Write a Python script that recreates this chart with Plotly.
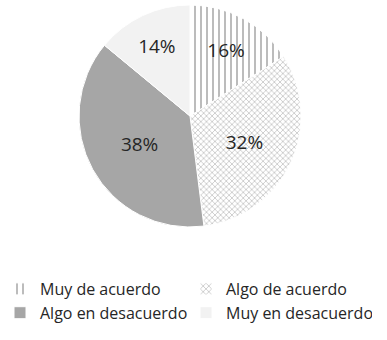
import plotly.graph_objects as go

labels = ["Muy de acuerdo", "Algo de acuerdo", "Algo en desacuerdo", "Muy en desacuerdo"]
values = [16, 32, 38, 14]
colors = ["#ffffff", "#ffffff", "#a6a6a6", "#f2f2f2"]
pattern_shapes = ["|", "x", "", ""]
pattern_fg = ["#a6a6a6", "#a6a6a6", "#a6a6a6", "#f2f2f2"]
pattern_sizes = [6, 4, 6, 6]

W, H = 387, 340
fig = go.Figure(go.Pie(
    labels=labels,
    values=values,
    sort=False,
    direction="clockwise",
    rotation=0,
    textinfo="percent",
    texttemplate="%{percent:.0%}",
    textposition="inside",
    insidetextorientation="horizontal",
    textfont=dict(size=19, color="#262626", family="Open Sans"),
    marker=dict(
        colors=colors,
        line=dict(color="#ffffff", width=1),
        pattern=dict(shape=pattern_shapes, fgcolor=pattern_fg, size=pattern_sizes, solidity=0.25),
    ),
    domain=dict(x=[79 / W, 301 / W], y=[1 - 227 / H, 1 - 5 / H]),
))

fig.update_layout(
    width=W, height=H,
    margin=dict(l=0, r=0, t=0, b=0),
    paper_bgcolor="#ffffff",
    font=dict(family="Open Sans", color="#262626"),
    showlegend=True,
    legend=dict(
        orientation="h",
        x=0, y=1 - 272 / H, xanchor="left", yanchor="top",
        entrywidth=141, entrywidthmode="pixels",
        font=dict(size=16, color="#262626"),
        itemwidth=30,
        traceorder="normal",
    ),
)

fig.write_html("out.html", config={"displayModeBar": False},
               post_script="document.body.style.margin='0px';")
